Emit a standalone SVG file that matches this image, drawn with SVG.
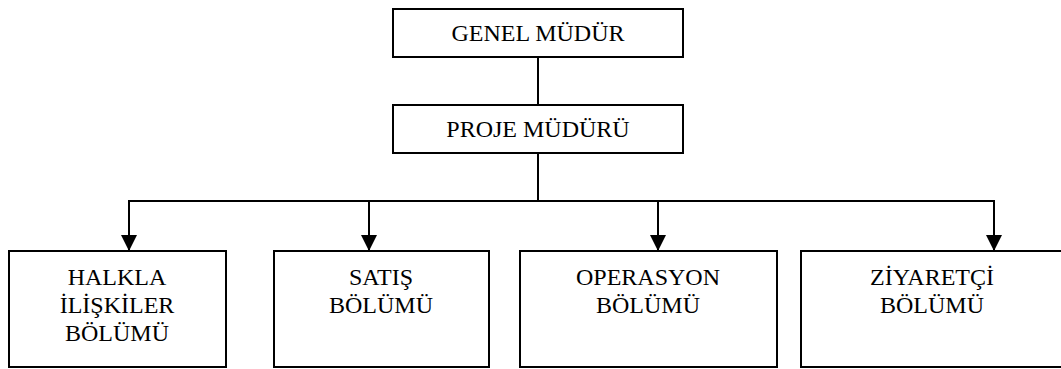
<svg xmlns="http://www.w3.org/2000/svg" width="1061" height="369" viewBox="0 0 1061 369">
<style>
.box{fill:#fff;stroke:#000;stroke-width:2}
.ln{fill:none;stroke:#000;stroke-width:2}
</style>
<defs>
<marker id="ah" viewBox="0 0 16 16" refX="16" refY="8" markerWidth="16" markerHeight="16" markerUnits="userSpaceOnUse" orient="auto">
<path d="M0,0 L16,8 L0,16 Z" fill="#000"/>
</marker>
</defs>
<g id="connectors">
<line class="ln" x1="538" y1="57" x2="538" y2="105"/>
<line class="ln" x1="538" y1="153" x2="538" y2="201"/>
<line class="ln" x1="128" y1="201" x2="995" y2="201"/>
<line class="ln" x1="129" y1="201" x2="129" y2="251" marker-end="url(#ah)"/>
<line class="ln" x1="369" y1="201" x2="369" y2="251" marker-end="url(#ah)"/>
<line class="ln" x1="658" y1="201" x2="658" y2="251" marker-end="url(#ah)"/>
<line class="ln" x1="994" y1="201" x2="994" y2="251" marker-end="url(#ah)"/>
</g>
<g id="genel">
<rect class="box" x="393" y="9" width="290" height="48"/>
<text x="538" y="41" font-family="Liberation Serif" font-size="24" text-anchor="middle">GENEL MÜDÜR</text>
</g>
<g id="proje">
<rect class="box" x="393" y="105" width="290" height="48"/>
<text x="538" y="137" font-family="Liberation Serif" font-size="24" text-anchor="middle">PROJE MÜDÜRÜ</text>
</g>
<g id="halkla">
<rect class="box" x="9" y="251" width="217" height="116"/>
<text x="117" y="285" font-family="Liberation Serif" font-size="24" text-anchor="middle">HALKLA</text>
<text x="117" y="313" font-family="Liberation Serif" font-size="24" text-anchor="middle">İLİŞKİLER</text>
<text x="117" y="341" font-family="Liberation Serif" font-size="24" text-anchor="middle">BÖLÜMÜ</text>
</g>
<g id="satis">
<rect class="box" x="274" y="251" width="215" height="116"/>
<text x="381" y="285" font-family="Liberation Serif" font-size="24" text-anchor="middle">SATIŞ</text>
<text x="381" y="313" font-family="Liberation Serif" font-size="24" text-anchor="middle">BÖLÜMÜ</text>
</g>
<g id="operasyon">
<rect class="box" x="520" y="251" width="257" height="116"/>
<text x="648" y="285" font-family="Liberation Serif" font-size="24" text-anchor="middle">OPERASYON</text>
<text x="648" y="313" font-family="Liberation Serif" font-size="24" text-anchor="middle">BÖLÜMÜ</text>
</g>
<g id="ziyaretci">
<rect class="box" x="801" y="251" width="262" height="116"/>
<text x="932" y="285" font-family="Liberation Serif" font-size="24" text-anchor="middle">ZİYARETÇİ</text>
<text x="932" y="313" font-family="Liberation Serif" font-size="24" text-anchor="middle">BÖLÜMÜ</text>
</g>
</svg>
